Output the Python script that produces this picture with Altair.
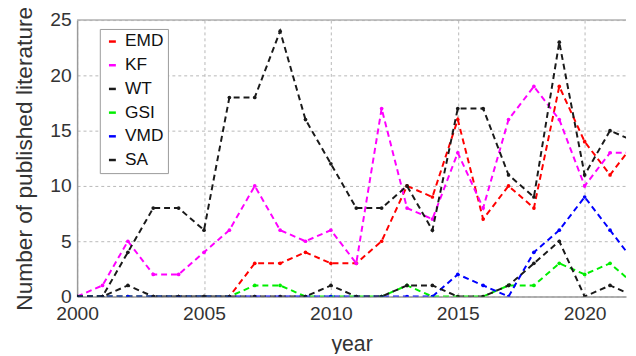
import altair as alt
import pandas as pd

years = list(range(2000, 2023))
series_names = ["EMD", "KF", "WT", "GSI", "VMD", "SA"]
series_colors = ["#ff0000", "#ff00ff", "#1a1a1a", "#00ee00", "#0000ff", "#1a1a1a"]

emd = [0, 0, 0, 0, 0, 0, 0, 3, 3, 4, 3, 3, 5, 10, 9, 16, 7, 10, 8, 19, 14, 11, 14]
kf = [0, 1, 5, 2, 2, 4, 6, 10, 6, 5, 6, 3, 17, 8, 7, 13, 8, 16, 19, 16, 10, 13, 13]
wt = [0, 0, 4, 8, 8, 6, 18, 18, 24, 16, 12, 8, 8, 10, 6, 17, 17, 11, 9, 23, 11, 15, 14]
gsi = [0, 0, 0, 0, 0, 0, 0, 1, 1, 0, 0, 0, 0, 1, 0, 0, 0, 1, 1, 3, 2, 3, 1]
vmd = [0, 0, 0, 0, 0, 0, 0, 0, 0, 0, 0, 0, 0, 0, 0, 2, 1, 0, 4, 6, 9, 6, 3]
sa = [0, 0, 1, 0, 0, 0, 0, 0, 0, 0, 1, 0, 0, 1, 1, 0, 0, 1, 3, 5, 0, 1, 0]

x_ticks = [2000, 2005, 2010, 2015, 2020]
y_ticks = [0, 5, 10, 15, 20, 25]

rows = []
for name, vals in zip(series_names, [emd, kf, wt, gsi, vmd, sa]):
    for yr, v in zip(years, vals):
        rows.append({"year": yr, "count": v, "method": name})
df = pd.DataFrame(rows)

FONT = "Liberation Sans"

x_enc = alt.X(
    "year:Q",
    scale=alt.Scale(domain=[2000, 2021.63], nice=False, zero=False),
    axis=alt.Axis(
        values=x_ticks, format="d", title="year",
        labelFont=FONT, labelFontSize=19.5, labelColor="#333333", labelPadding=8,
        titleFont=FONT, titleFontSize=21.5, titleFontWeight="normal", titleColor="#333333",
        titlePadding=11,
        domainColor="#9a9a9a", domainWidth=1.5, tickSize=0,
        grid=True, gridColor="#b8b8b8", gridDash=[3, 3], gridWidth=1,
        labelFlush=False,
    ),
)
y_enc = alt.Y(
    "count:Q",
    scale=alt.Scale(domain=[0, 25], nice=False),
    axis=alt.Axis(
        values=y_ticks, title="Number of published literature",
        labelFont=FONT, labelFontSize=19.5, labelColor="#333333", labelPadding=6,
        titleFont=FONT, titleFontSize=23, titleFontWeight="normal", titleColor="#333333",
        titlePadding=14,
        domainColor="#9a9a9a", domainWidth=1.5, tickSize=0,
        grid=True, gridColor="#b8b8b8", gridDash=[3, 3], gridWidth=1,
    ),
)
color_enc = alt.Color(
    "method:N",
    scale=alt.Scale(domain=series_names, range=series_colors),
    legend=alt.Legend(
        title=None, orient="none", legendX=23, legendY=9,
        fillColor="white", strokeColor="#9a9a9a", padding=4,
        labelFont=FONT, labelFontSize=17.5, labelColor="#111111",
        symbolType="stroke", symbolSize=49, symbolStrokeWidth=2.5,
        rowPadding=5, labelOffset=4,
    ),
)

top_border = alt.Chart(pd.DataFrame({"count": [25]})).mark_rule(
    color="#b0b0b0", strokeWidth=1.5
).encode(y=alt.Y("count:Q"))

layers = [top_border]
for name, col in zip(series_names, series_colors):
    sub = alt.Chart(df).transform_filter(alt.datum.method == name)
    line = sub.mark_line(strokeWidth=2, strokeDash=[6, 4], clip=True).encode(
        x=x_enc, y=y_enc, color=color_enc
    )
    pts = sub.mark_point(filled=True, size=14, opacity=1, clip=True).encode(
        x=x_enc, y=y_enc, color=alt.value(col)
    )
    layers += [line, pts]

chart = alt.layer(*layers).properties(
    width=556, height=280,
    autosize=alt.AutoSizeParams(type="none"),
    padding={"left": 70, "top": 10, "right": 2, "bottom": 56},
).configure_view(stroke=None)

chart.save("out.html", embed_options={"renderer": "svg", "actions": False})
